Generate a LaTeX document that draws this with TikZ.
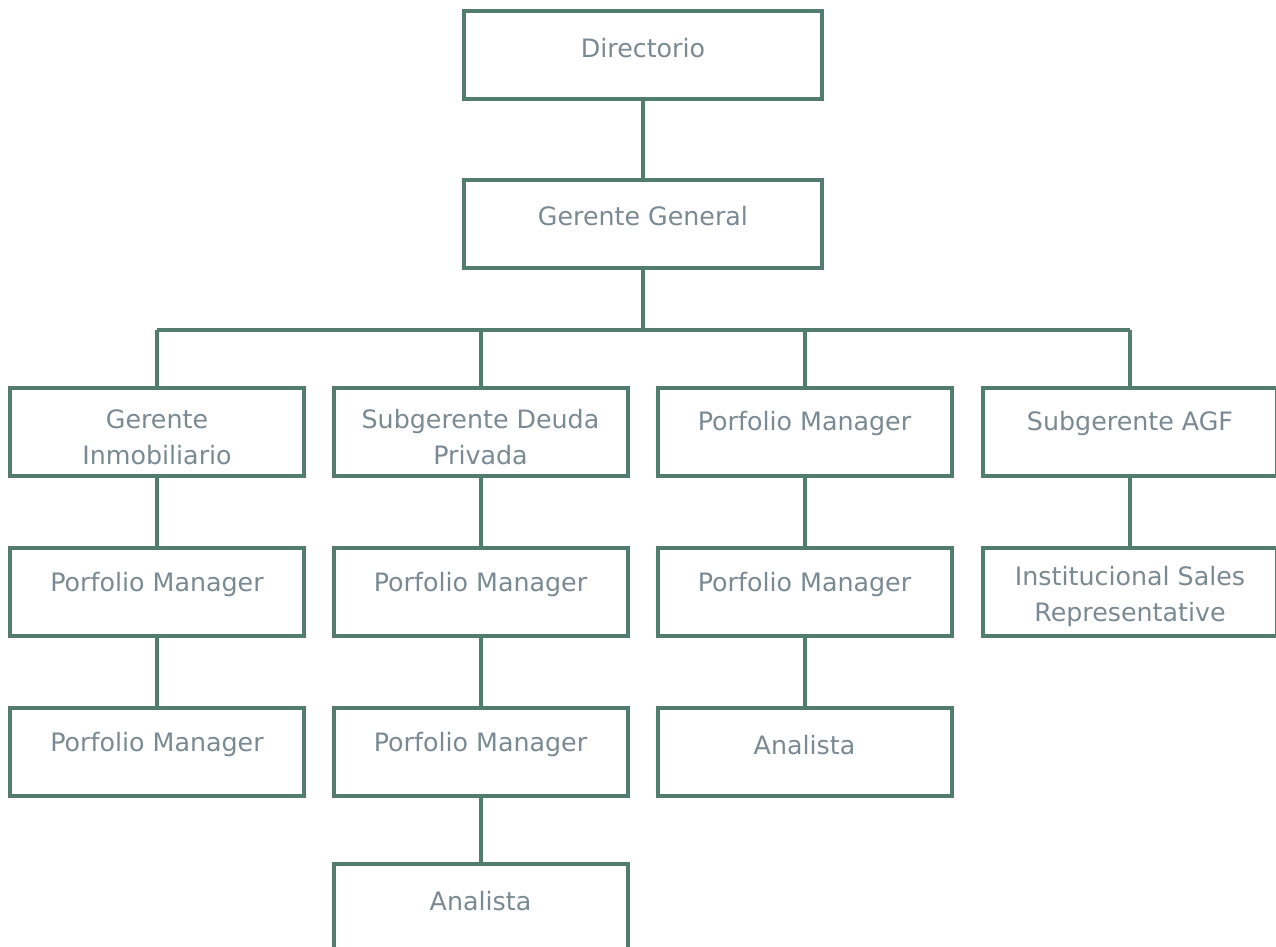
\documentclass[tikz,border=0pt]{standalone}
\usepackage{fontspec}
\setmainfont{DejaVu Sans}
\definecolor{boxc}{HTML}{527D6E}
\definecolor{txtc}{HTML}{7B8A92}
\begin{document}
\begin{tikzpicture}[x=0.75pt,y=-0.75pt,
  orgbox/.style={draw=boxc,line width=3pt,minimum width=294*0.75pt,minimum height=88*0.75pt,inner sep=0pt,fill=white},
  topbox/.style={orgbox,minimum width=358*0.75pt},
  lbl/.style={text=txtc,font=\fontsize{19}{27}\selectfont,align=center,inner sep=0pt},
  conn/.style={draw=boxc,line width=3pt}]
\useasboundingbox (0,0) rectangle (1276,946);
\clip (0,0) rectangle (1276,946);
% boxes
\node[topbox] (dir) at (643,54.5) {};
\node[topbox] (gg) at (643,224) {};
\node[orgbox] (a1) at (157,432) {};
\node[orgbox] (b1) at (480.5,432) {};
\node[orgbox] (c1) at (804.5,432) {};
\node[orgbox] (d1) at (1130,432) {};
\node[orgbox] (a2) at (157,592) {};
\node[orgbox] (b2) at (480.5,592) {};
\node[orgbox] (c2) at (804.5,592) {};
\node[orgbox] (d2) at (1130,592) {};
\node[orgbox] (a3) at (157,752) {};
\node[orgbox] (b3) at (480.5,752) {};
\node[orgbox] (c3) at (804.5,752) {};
\node[orgbox] (b4) at (480.5,908) {};
% labels
\node[lbl] (tdir) at (643,48) {Directorio};
\node[lbl] (tgg) at (643,216) {Gerente General};
\node[lbl] (ta1) at (157,437) {Gerente\\Inmobiliario};
\node[lbl] (tb1) at (480.5,437) {Subgerente Deuda\\Privada};
\node[lbl] (tc1) at (804.5,424) {Porfolio Manager};
\node[lbl] (td1) at (1130,424) {Subgerente AGF};
\node[lbl] (ta2) at (157,584) {Porfolio Manager};
\node[lbl] (tb2) at (480.5,584) {Porfolio Manager};
\node[lbl] (tc2) at (804.5,584) {Porfolio Manager};
\node[lbl] (td2) at (1130,596) {Institucional Sales\\Representative};
\node[lbl] (ta3) at (157,744) {Porfolio Manager};
\node[lbl] (tb3) at (480.5,744) {Porfolio Manager};
\node[lbl] (tc3) at (804.5,745) {Analista};
\node[lbl] (tb4) at (480.5,901) {Analista};
% connectors
\coordinate (bus) at (643,330);
\coordinate (busL) at (157,330);
\coordinate (busR) at (1130,330);
\draw[conn] (dir.south) -- (gg.north);
\draw[conn] (gg.south) -- (bus);
\draw[conn] (busL) -- (busR);
\draw[conn] (busL) -- (a1.north);
\draw[conn] (b1.north |- bus) -- (b1.north);
\draw[conn] (c1.north |- bus) -- (c1.north);
\draw[conn] (busR) -- (d1.north);
\draw[conn] (a1.south) -- (a2.north);
\draw[conn] (a2.south) -- (a3.north);
\draw[conn] (b1.south) -- (b2.north);
\draw[conn] (b2.south) -- (b3.north);
\draw[conn] (b3.south) -- (b4.north);
\draw[conn] (c1.south) -- (c2.north);
\draw[conn] (c2.south) -- (c3.north);
\draw[conn] (d1.south) -- (d2.north);
\end{tikzpicture}
\end{document}
